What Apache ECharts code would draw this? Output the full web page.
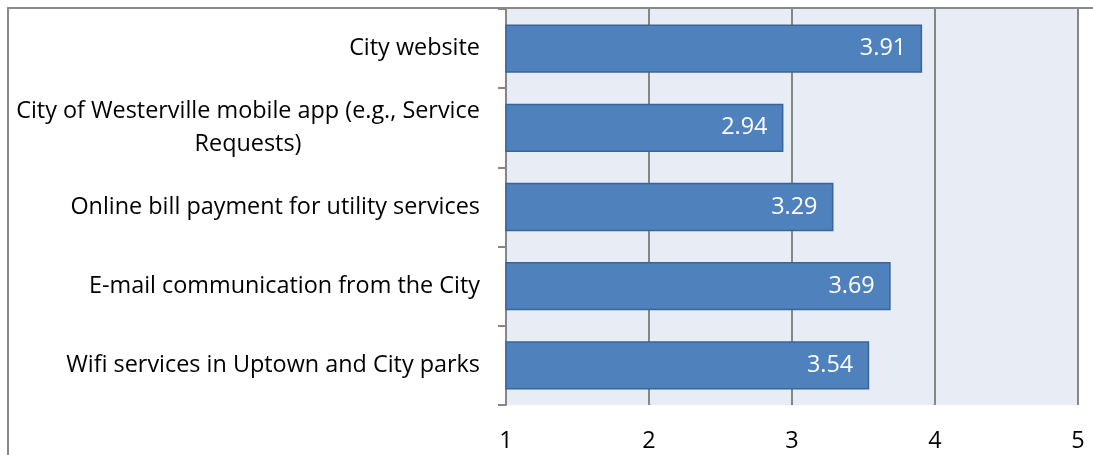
<!DOCTYPE html>
<html>
<head>
<meta charset="utf-8">
<script src="https://cdn.jsdelivr.net/npm/echarts@6/dist/echarts.min.js"></script>
<style>
  html, body { margin: 0; padding: 0; background: #ffffff; }
  #chart { width: 1093px; height: 455px; }
</style>
</head>
<body>
<div id="chart"></div>
<script>
// Services, listed top to bottom
const categories = [
  'City website',
  'City of Westerville mobile app (e.g., Service\nRequests)',
  'Online bill payment for utility services',
  'E-mail communication from the City',
  'Wifi services in Uptown and City parks'
];
// Average rating per service (scale 1–5)
const ratings = [3.91, 2.94, 3.29, 3.69, 3.54];
// Value axis ticks
const tickValues = [1, 2, 3, 4, 5];

const FONT = '"Open Sans", sans-serif';
const FONT_SIZE = 23.4;

// Width of a text line in the label font, used to centre wrapped lines
const measureCtx = document.createElement('canvas').getContext('2d');
measureCtx.font = FONT_SIZE + 'px ' + FONT;
function textWidth(s) { return Math.ceil(measureCtx.measureText(s).width); }

const chart = echarts.init(document.getElementById('chart'), null, { renderer: 'canvas' });

chart.setOption({
  animation: false,
  backgroundColor: '#ffffff',
  grid: {
    left: 506, right: 15, top: 9, bottom: 50,
    show: true, backgroundColor: '#E8ECF4', borderWidth: 0
  },
  xAxis: {
    type: 'value',
    min: tickValues[0],
    max: tickValues[tickValues.length - 1],
    interval: 1,
    axisLine: { show: false },
    axisTick: { show: false },
    axisLabel: { color: '#000', fontFamily: FONT, fontSize: FONT_SIZE, margin: 25 },
    splitLine: { show: true, lineStyle: { color: '#868686', width: 2 } }
  },
  yAxis: {
    type: 'category',
    inverse: true,
    data: categories,
    axisLine: { show: true, lineStyle: { color: '#868686', width: 2 } },
    axisTick: { show: true, length: 8, lineStyle: { color: '#868686', width: 2 } },
    axisLabel: {
      color: '#000', fontFamily: FONT, fontSize: FONT_SIZE, margin: 26, lineHeight: 33,
      formatter: function (v) {
        const lines = v.split('\n');
        if (lines.length === 1) return v;
        const w = Math.max.apply(null, lines.map(textWidth));
        return lines.map(function (s) {
          return '{c' + w + '|' + s + '}';
        }).join('\n');
      },
      rich: (function () {
        const r = {};
        categories.forEach(function (c) {
          const lines = c.split('\n');
          if (lines.length > 1) {
            const w = Math.max.apply(null, lines.map(textWidth));
            r['c' + w] = { width: w, align: 'center', fontFamily: FONT, fontSize: FONT_SIZE, color: '#000', lineHeight: 33 };
          }
        });
        return r;
      })()
    }
  },
  series: [{
    type: 'bar',
    data: ratings,
    barWidth: '61%',
    itemStyle: { color: '#4F81BD', borderColor: '#3A6597', borderWidth: 1.5 },
    label: {
      show: true,
      position: 'insideRight',
      distance: 16,
      color: '#ffffff',
      fontFamily: FONT,
      fontSize: FONT_SIZE,
      formatter: function (p) { return p.value.toFixed(2); }
    }
  }],
  graphic: [{
    type: 'polyline',
    silent: true,
    z: 100,
    shape: { points: [[8, 455], [8, 8], [1093, 8]] },
    style: { fill: null, stroke: '#898989', lineWidth: 2 }
  }]
});
</script>
</body>
</html>
